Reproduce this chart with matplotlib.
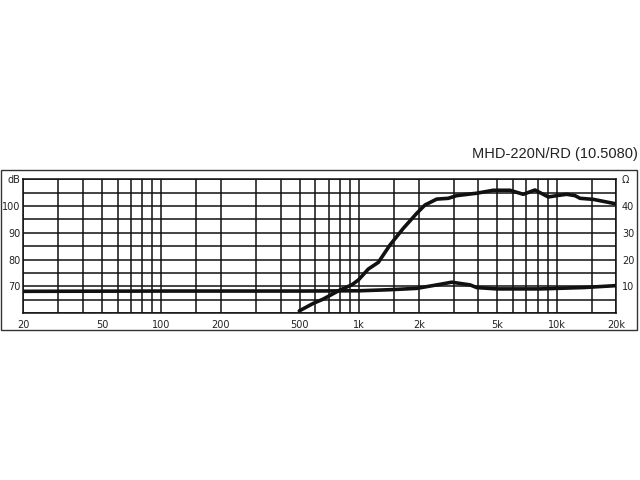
import matplotlib
matplotlib.use("Agg")
import matplotlib.pyplot as plt
from matplotlib.patches import Rectangle

# SPL curve (dB), starts at 500 Hz
spl_freq = [498, 586, 658, 800, 917, 990, 1112, 1250, 1432, 1672, 1955, 2152, 2466,
            2823, 3113, 3932, 4770, 5792, 6761, 7748, 9048, 9980, 11200, 12350,
            13100, 15300, 19700]
spl_db = [60.9, 63.7, 65.3, 68.7, 70.6, 72.4, 76.5, 79.0, 85.5, 91.7, 97.3, 100.4, 102.6,
          102.9, 103.9, 104.8, 105.9, 105.9, 104.4, 106.0, 103.4, 103.9, 104.4, 103.9,
          102.9, 102.5, 100.9]

# impedance curve (ohm)
imp_freq = [20, 100, 500, 1000, 1432, 1955, 2564, 2938, 3636, 3932, 4960, 8218, 13600, 19700]
imp_ohm = [8.2, 8.3, 8.3, 8.4, 8.8, 9.3, 10.8, 11.6, 10.6, 9.6, 9.1, 9.1, 9.6, 10.3]

grid_freqs = [20, 30, 40, 50, 60, 70, 80, 90, 100, 150, 200, 300, 400, 500, 600, 700,
              800, 900, 1000, 1500, 2000, 3000, 4000, 5000, 6000, 7000, 8000, 9000,
              10000, 15000, 20000]
freq_labels = {20: "20", 50: "50", 100: "100", 200: "200", 500: "500", 1000: "1k",
               2000: "2k", 5000: "5k", 10000: "10k", 20000: "20k"}
db_ticks = [70, 80, 90, 100, 110]
db_labels = ["70", "80", "90", "100", "dB"]
ohm_ticks = [10, 20, 30, 40, 50]
ohm_labels = ["10", "20", "30", "40", "Ω"]

fig = plt.figure(figsize=(6.4, 4.8), dpi=100)
fig.patches.append(Rectangle((0.002, 0.3125), 0.993, 0.333, transform=fig.transFigure,
                             fill=False, edgecolor="#333333", linewidth=1.0))
fig.text(0.996, 0.68, "MHD-220N/RD (10.5080)", ha="right", va="center",
         fontsize=10.5, family="Liberation Sans", color="#222222")

ax = fig.add_axes([0.0364, 0.3473, 0.9267, 0.2792])
ax.set_xscale("log")
ax.set_xlim(20, 20000)
ax.set_ylim(60, 110)

for f in grid_freqs:
    ax.axvline(f, color="#111111", lw=1.1, zorder=1)
for d in range(60, 111, 5):
    ax.axhline(d, color="#111111", lw=1.1, zorder=1)

ax.set_xticks(grid_freqs)
ax.set_xticklabels([freq_labels.get(f, "") for f in grid_freqs])
ax.xaxis.set_minor_locator(matplotlib.ticker.NullLocator())
ax.set_yticks(db_ticks)
ax.set_yticklabels(db_labels)
ax.tick_params(axis="both", length=0, labelsize=7, colors="#222222")
ax.tick_params(axis="x", pad=5)
ax.tick_params(axis="y", pad=2)
for s in ax.spines.values():
    s.set_linewidth(1.1)
    s.set_color("#111111")

ax.plot(spl_freq, spl_db, color="#111111", lw=2.6, zorder=3, solid_capstyle="round")

ax2 = ax.twinx()
ax2.set_ylim(0, 50)
ax2.set_yticks(ohm_ticks)
ax2.set_yticklabels(ohm_labels)
ax2.tick_params(axis="y", length=0, labelsize=7, colors="#222222", pad=4)
for s in ax2.spines.values():
    s.set_visible(False)
ax2.plot(imp_freq, imp_ohm, color="#111111", lw=2.6, zorder=3, solid_capstyle="round")

fig.savefig("out.png", dpi=100)
